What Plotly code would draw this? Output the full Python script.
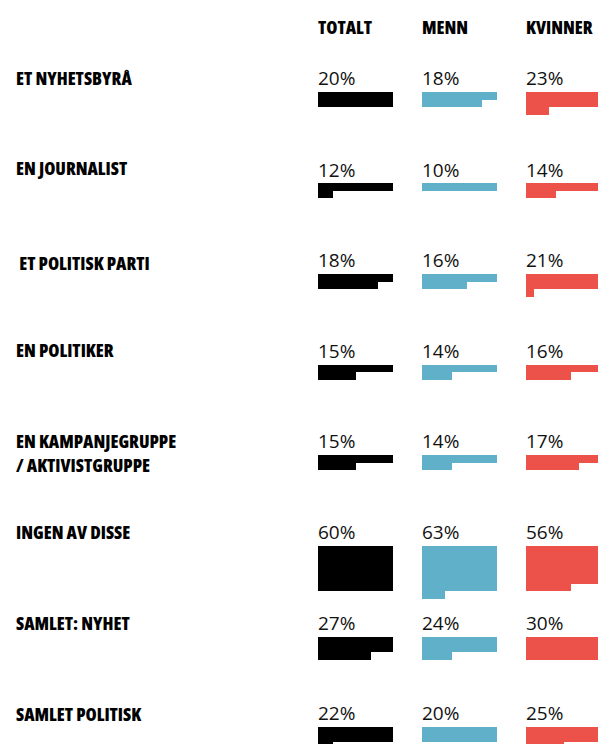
import plotly.graph_objects as go

# ---- data ----
categories = ["ET NYHETSBYRÅ", "EN JOURNALIST", " ET POLITISK PARTI", "EN POLITIKER",
              "EN KAMPANJEGRUPPE|/ AKTIVISTGRUPPE", "INGEN AV DISSE", "SAMLET: NYHET",
              "SAMLET POLITISK"]
groups = ["TOTALT", "MENN", "KVINNER"]
totalt = [20, 12, 18, 15, 15, 60, 27, 22]
menn = [18, 10, 16, 14, 14, 63, 24, 20]
kvinner = [23, 14, 21, 16, 17, 56, 30, 25]

# ---- layout / style ----
W, H = 598, 744
colors = ["#000000", "#5FB0C8", "#EC5249"]
col_x = [318, 422, 526]
row_top = [92, 183, 274, 364.5, 455, 546, 637, 727]
label_y = [77.5, 168, 263, 350, 441, 531.5, 622.5, 713.5]
pct_y = [78, 169.5, 259.5, 350.5, 440.5, 532, 622.5, 713]
cell = 7.5
ncols = 10
bold_font = dict(family="Open Sans, sans-serif", size=18, color="#000", weight=800)
pct_font = dict(family="Open Sans, Noto Sans, sans-serif", size=19, color="#111")


def cond(t):
    return f'<span style="font-stretch:75%">{t}</span>'


fig = go.Figure()
series = [totalt, menn, kvinner]
for gi, vals in enumerate(series):
    xs, ys, bases, widths = [], [], [], []
    for ri, v in enumerate(vals):
        full = v // ncols
        rem = v % ncols
        if full > 0:
            xs.append(col_x[gi] + ncols * cell / 2)
            widths.append(ncols * cell)
            bases.append(row_top[ri])
            ys.append(full * cell)
        if rem > 0:
            xs.append(col_x[gi] + rem * cell / 2)
            widths.append(rem * cell)
            bases.append(row_top[ri] + full * cell)
            ys.append(cell)
    fig.add_trace(go.Bar(x=xs, y=ys, base=bases, width=widths,
                         marker=dict(color=colors[gi], line=dict(width=0)),
                         hoverinfo="skip", showlegend=False, name=groups[gi]))

ann = []
for gi, g in enumerate(groups):
    ann.append(dict(x=col_x[gi], y=26.5, text=cond(g), font=bold_font))
for ri, cat in enumerate(categories):
    for li, line in enumerate(cat.split("|")):
        txt = line.replace(" ", "&nbsp;", 1) if line.startswith(" ") else line
        ann.append(dict(x=16, y=label_y[ri] + li * 24, text=cond(txt), font=bold_font))
    for gi, vals in enumerate(series):
        ann.append(dict(x=col_x[gi], y=pct_y[ri], text=f"{vals[ri]}%", font=pct_font))
for a in ann:
    a.update(xref="x", yref="y", xanchor="left", yanchor="middle", showarrow=False,
             xshift=-2)

fig.update_layout(
    width=W, height=H, margin=dict(l=0, r=0, t=0, b=0),
    paper_bgcolor="white", plot_bgcolor="white",
    barmode="overlay", bargap=0,
    xaxis=dict(range=[0, W], visible=False, fixedrange=True),
    yaxis=dict(range=[H, 0], visible=False, fixedrange=True),
    annotations=ann,
)
fig.write_html("out.html")
